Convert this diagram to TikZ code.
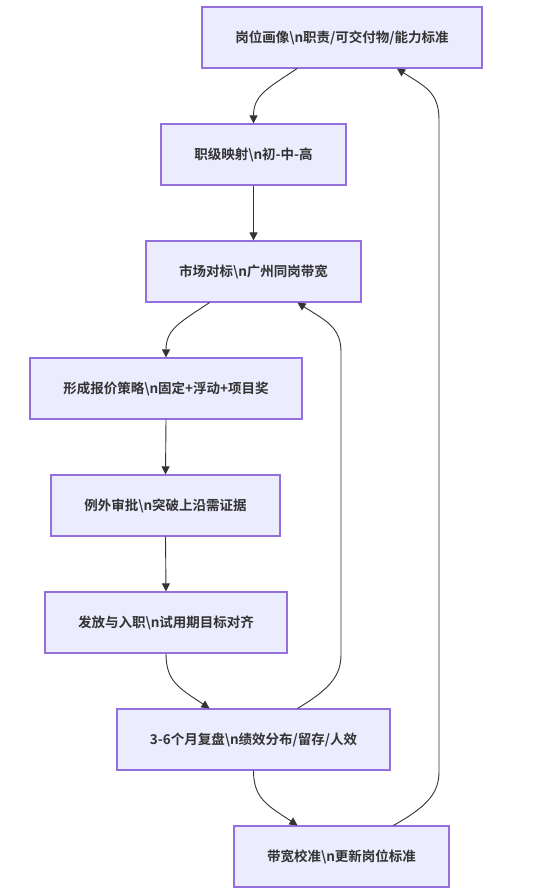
\documentclass[tikz,border=0pt]{standalone}
\usepackage{fontspec}
\setmainfont{Noto Sans CJK SC}[BoldFont={Noto Sans CJK SC Bold}]
\usetikzlibrary{arrows.meta}
\definecolor{boxfill}{HTML}{ECECFF}
\definecolor{boxline}{HTML}{9370DB}
\definecolor{txt}{HTML}{333333}
\definecolor{edge}{HTML}{333333}
\begin{document}
\begin{tikzpicture}[x=1pt,y=-1pt,
  box/.style={draw=boxline,fill=boxfill,line width=1.2pt,minimum height=61pt,inner sep=0pt,
    font=\fontsize{13.5}{16}\selectfont\bfseries,text=txt},
  link/.style={draw=edge,line width=0.9pt,-{Triangle[length=8pt,width=8pt]}}]
\useasboundingbox (0,0) rectangle (551,890);
\node[box,minimum width=280pt] (n1) at (342,37.5) {岗位画像\textbackslash n职责/可交付物/能力标准};
\node[box,minimum width=185pt] (n2) at (253.5,154.5) {职级映射\textbackslash n初-中-高};
\node[box,minimum width=215pt] (n3) at (253.5,271.5) {市场对标\textbackslash n广州同岗带宽};
\node[box,minimum width=272pt] (n4) at (166,388.5) {形成报价策略\textbackslash n固定+浮动+项目奖};
\node[box,minimum width=229pt] (n5) at (165.5,505.5) {例外审批\textbackslash n突破上沿需证据};
\node[box,minimum width=242pt] (n6) at (166,622.5) {发放与入职\textbackslash n试用期目标对齐};
\node[box,minimum width=273pt] (n7) at (253.5,739.5) {3-6个月复盘\textbackslash n绩效分布/留存/人效};
\node[box,minimum width=215pt] (n8) at (341.5,856.5) {带宽校准\textbackslash n更新岗位标准};
% straight edges
\draw[link] (n2.south) -- (n3.north);
\draw[link] (n4.south) -- (n5.north);
\draw[link] (n5.south) -- (n6.north);
% curved edges
\draw[link] ([xshift=-45pt]n1.south) .. controls +(-30,20) and +(0,-28) .. (n2.north);
\draw[link] ([xshift=-44pt]n3.south) .. controls +(-30,20) and +(0,-28) .. (n4.north);
\draw[link] (n6.south) .. controls +(0,28) and +(-30,-20) .. ([xshift=-44pt]n7.north);
\draw[link] (n7.south) .. controls +(0,28) and +(-30,-20) .. ([xshift=-44pt]n8.north);
\coordinate (a1) at (341,655);
\coordinate (a2) at (341,352);
\draw[link] ([xshift=44pt]n7.north) .. controls +(30,-18) and +(0,22) .. (a1) -- (a2) .. controls +(0,-25) and +(28,18) .. ([xshift=44pt]n3.south);
\coordinate (b1) at (439,772);
\coordinate (b2) at (439,120);
\draw[link] ([xshift=52pt]n8.north) .. controls +(32,-18) and +(0,22) .. (b1) -- (b2) .. controls +(0,-28) and +(28,18) .. ([xshift=55pt]n1.south);
\end{tikzpicture}
\end{document}
